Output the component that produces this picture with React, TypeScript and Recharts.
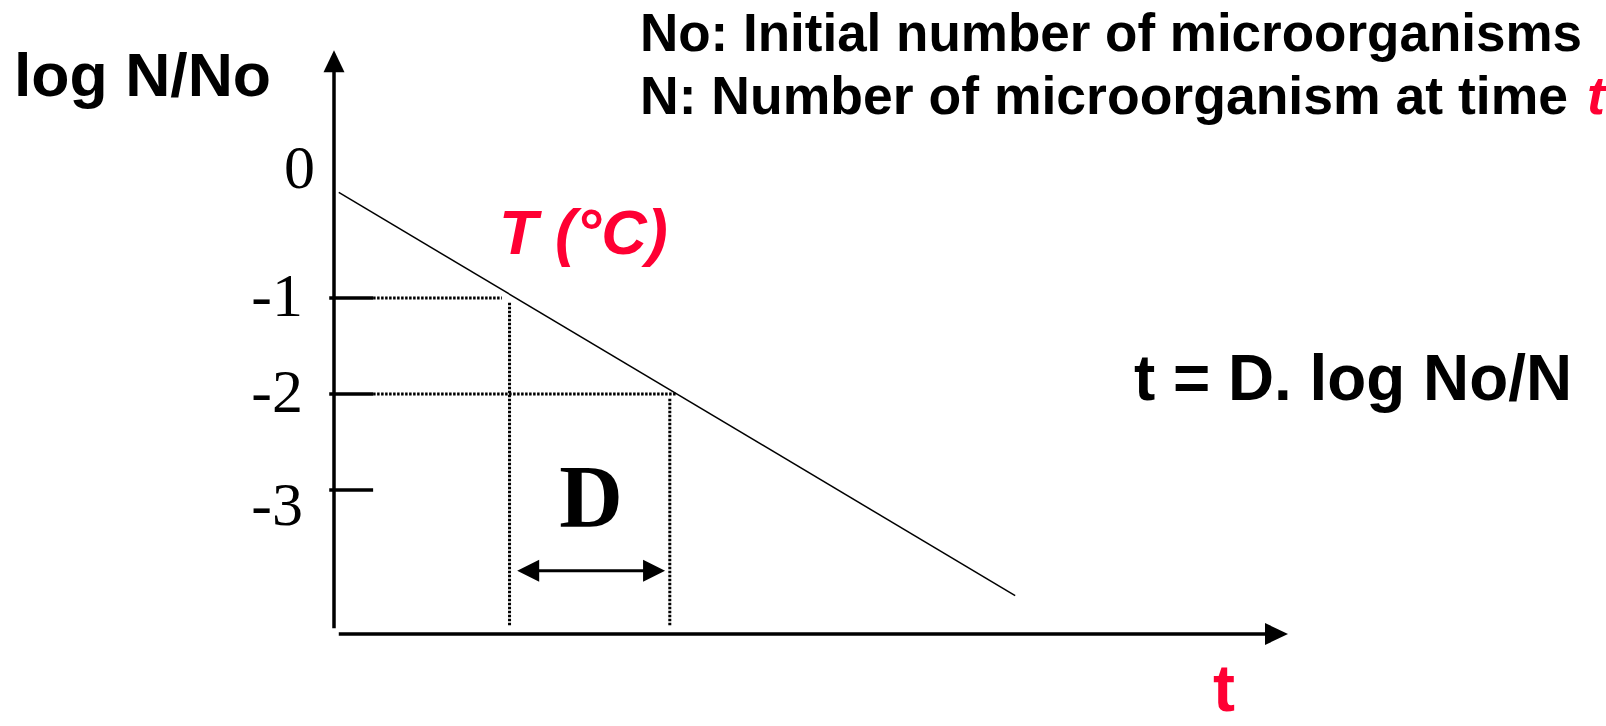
import React from 'react';
import { ComposedChart, Line, XAxis, YAxis, ReferenceLine } from 'recharts';

// ---- data ----
const survivalTimes = [0.5, 71.4];
const survivalLogs = [0.1, -4.1];
const yTicks = [0, -1, -2, -3];
const guideLevels = [-1, -2];
const guideTimes = [18.4, 35.2];
const xDomain: [number, number] = [0, 100];
const yDomain: [number, number] = [-4.5, 1.5];

const lineData = survivalTimes.map((t, i) => ({ t, v: survivalLogs[i] }));

const RED = '#ff0033';
const SANS = '"Liberation Sans", Arial, sans-serif';
const SERIF = '"Liberation Serif", "Times New Roman", serif';

const makeArrow = (both: boolean, sw: number, headLen: number, headW: number, label?: string) => (p: any) => {
  const { x1, y1, x2, y2 } = p;
  const dx = x2 - x1, dy = y2 - y1;
  const L = Math.hypot(dx, dy) || 1;
  const ux = dx / L, uy = dy / L;
  const nx = -uy, ny = ux;
  const tri = (tx: number, ty: number, dx2: number, dy2: number) =>
    `${tx},${ty} ${tx - dx2 * headLen + nx * headW / 2},${ty - dy2 * headLen + ny * headW / 2} ${tx - dx2 * headLen - nx * headW / 2},${ty - dy2 * headLen - ny * headW / 2}`;
  const sx = both ? x1 + ux * headLen * 0.8 : x1;
  const sy = both ? y1 + uy * headLen * 0.8 : y1;
  const ex = x2 - ux * headLen * 0.8;
  const ey = y2 - uy * headLen * 0.8;
  return (
    <g>
      <line x1={sx} y1={sy} x2={ex} y2={ey} stroke="#000" strokeWidth={sw} />
      <polygon points={tri(x2, y2, ux, uy)} fill="#000" />
      {both && <polygon points={tri(x1, y1, -ux, -uy)} fill="#000" />}
      {label && (
        <text x={(x1 + x2) / 2} y={y1 - 45} textAnchor="middle" fontFamily={SERIF} fontWeight="bold" fontSize={88} fill="#000">
          {label}
        </text>
      )}
    </g>
  );
};

const labelShift: Record<string, [number, number]> = { '0': [12, -32], '-3': [0, 17] };

const YTick = (p: any) => {
  const v = p.payload.value;
  const [dx, dy] = labelShift[String(v)] ?? [0, 0];
  return (
    <text x={p.x + dx} y={p.y + 18 + dy} textAnchor="end" fontFamily={SERIF} fontSize={62} fill="#000">
      {String(v)}
    </text>
  );
};

export default function App() {
  return (
    <div style={{ position: 'absolute', left: 0, top: 0, width: 1606, height: 726, background: '#fff' }}>
      <ComposedChart
        width={1606}
        height={726}
        data={lineData}
        margin={{ top: 58, right: 318, bottom: 92, left: 274 }}
      >
        <XAxis dataKey="t" type="number" domain={xDomain} hide />
        <YAxis
          type="number"
          domain={yDomain}
          ticks={yTicks}
          width={60}
          axisLine={false}
          tickLine={false}
          tickSize={0}
          tickMargin={31}
          tick={YTick}
          interval={0}
          allowDataOverflow
        />
        {/* axes with arrows */}
        <ReferenceLine
          segment={[{ x: 0, y: -4.44 }, { x: 0, y: 1.58 }]}
          ifOverflow="visible"
          shape={makeArrow(false, 3.5, 22, 21)}
        />
        <ReferenceLine
          segment={[{ x: 0.5, y: -4.5 }, { x: 100, y: -4.5 }]}
          ifOverflow="visible"
          shape={makeArrow(false, 3.5, 23, 22)}
        />
        {/* tick marks */}
        {yTicks.filter((v) => v !== 0).map((v) => (
          <ReferenceLine
            key={'tk' + v}
            segment={[{ x: -0.5, y: v }, { x: 4.1, y: v }]}
            ifOverflow="visible"
            stroke="#000"
            strokeWidth={3.5}
          />
        ))}
        {/* dotted guides */}
        {guideLevels.map((lv, i) => (
          <ReferenceLine
            key={'h' + lv}
            segment={[{ x: 4.1, y: lv }, { x: guideTimes[i] + (i === 0 ? -0.8 : 0.7), y: lv }]}
            ifOverflow="visible"
            stroke="#000"
            strokeWidth={3}
            strokeDasharray="2.5 1.5"
          />
        ))}
        {guideLevels.map((lv, i) => (
          <ReferenceLine
            key={'v' + lv}
            segment={[{ x: guideTimes[i], y: lv - 0.05 }, { x: guideTimes[i], y: -4.41 }]}
            ifOverflow="visible"
            stroke="#000"
            strokeWidth={3}
            strokeDasharray="2.5 1.5"
          />
        ))}
        {/* D double arrow */}
        <ReferenceLine
          segment={[{ x: guideTimes[0] + 0.8, y: -3.84 }, { x: guideTimes[1] - 0.5, y: -3.84 }]}
          ifOverflow="visible"
          shape={makeArrow(true, 3, 22, 22, 'D')}
        />
        <Line
          dataKey="v"
          type="linear"
          stroke="#000"
          strokeWidth={1.5}
          dot={false}
          activeDot={false}
          isAnimationActive={false}
        />
      </ComposedChart>
      <svg
        width={1606}
        height={726}
        style={{ position: 'absolute', left: 0, top: 0, pointerEvents: 'none' }}
      >
        <text x={14} y={96} fontFamily={SANS} fontWeight="bold" fontSize={62} fill="#000" textLength={257} lengthAdjust="spacingAndGlyphs">
          log N/No
        </text>
        <text x={640} y={51} fontFamily={SANS} fontWeight="bold" fontSize={54} fill="#000" textLength={942} lengthAdjust="spacingAndGlyphs">
          No: Initial number of microorganisms
        </text>
        <text x={640} y={114} fontFamily={SANS} fontWeight="bold" fontSize={54} fill="#000" textLength={928} lengthAdjust="spacingAndGlyphs">
          N: Number of microorganism at time
        </text>
        <text x={1587} y={114} fontFamily={SANS} fontWeight="bold" fontStyle="italic" fontSize={54} fill={RED}>
          t
        </text>
        <text x={499} y={254} fontFamily={SANS} fontWeight="bold" fontStyle="italic" fontSize={63} fill={RED}>
          T (°C)
        </text>
        <text x={1134} y={400} fontFamily={SANS} fontWeight="bold" fontSize={64} fill="#000" textLength={438} lengthAdjust="spacingAndGlyphs">
          t = D. log No/N
        </text>
        <text x={1213} y={711} fontFamily={SANS} fontWeight="bold" fontSize={66} fill={RED}>
          t
        </text>
      </svg>
    </div>
  );
}
